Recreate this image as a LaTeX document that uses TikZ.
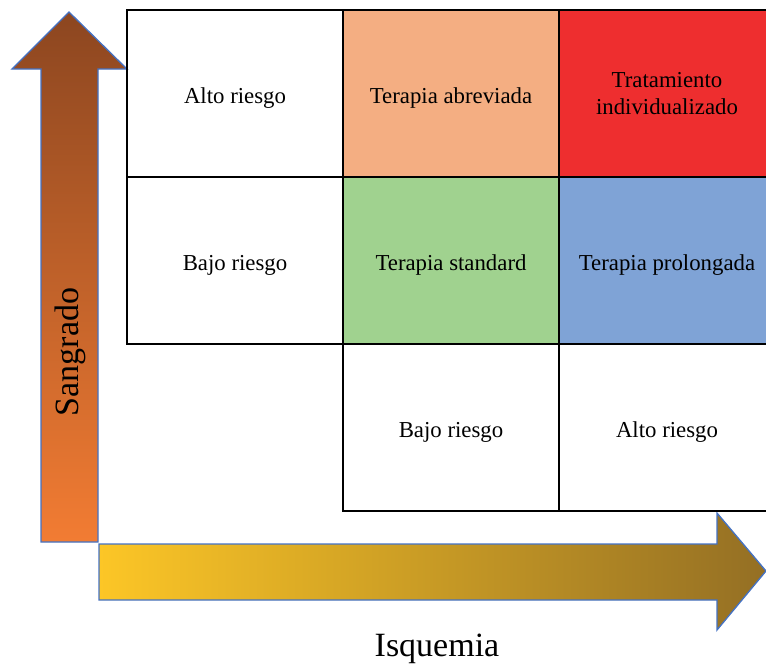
\documentclass[tikz,border=0pt]{standalone}
\usepackage{fontspec}
\setmainfont{Liberation Serif}
\usetikzlibrary{positioning}
\definecolor{borda}{HTML}{4472C4}
\definecolor{pessego}{HTML}{F4AE82}
\definecolor{vermelho}{HTML}{EE2E2F}
\definecolor{verde}{HTML}{A0D28F}
\definecolor{azul}{HTML}{7FA3D6}
\definecolor{marrom}{HTML}{8C4620}
\definecolor{laranja}{HTML}{F27C33}
\definecolor{amarelo}{HTML}{FCC626}
\definecolor{ouro}{HTML}{946F24}
\begin{document}
\begin{tikzpicture}[x=1pt, y=-1pt,
  font=\fontsize{22.8}{27}\selectfont,
  celula/.style={draw=black, line width=1.4pt, align=center, minimum width=216pt, minimum height=167pt, inner sep=0pt, outer sep=0pt, text height=24pt, text depth=5pt},
  seta/.style={draw=borda, line width=1.3pt, line join=miter},
  node distance=0pt]
\useasboundingbox (0,0) rectangle (766,665);
\clip (0,0) rectangle (766,665);
% eixos
\path[seta, top color=marrom, bottom color=laranja]
  (41,542) -- (41,69) -- (12,69) -- (69,12) -- (127,69) -- (98,69) -- (98,542) -- cycle;
\path[seta, left color=amarelo, right color=ouro]
  (99,544) -- (717,544) -- (717,513) -- (766,571) -- (717,630) -- (717,600) -- (99,600) -- cycle;
\node[rotate=90, font=\fontsize{34}{36}\selectfont] (sangrado) at (70,352) {Sangrado};
\node[font=\fontsize{34}{36}\selectfont] (isquemia) at (437,649) {Isquemia};
% grade
\node[celula, anchor=north west] (altoS) at (127,10) {Alto riesgo};
\node[celula, fill=pessego, right=of altoS] (abrev) {Terapia abreviada};
\node[celula, fill=vermelho, right=of abrev, text height={}, text depth={}, yshift=0pt] (indiv) {Tratamiento\\individualizado};
\node[celula, below=of altoS] (bajoS) {Bajo riesgo};
\node[celula, fill=verde, right=of bajoS] (standard) {Terapia standard};
\node[celula, fill=azul, right=of standard] (prolong) {Terapia prolongada};
\node[celula, below=of standard] (bajoI) {Bajo riesgo};
\node[celula, right=of bajoI] (altoI) {Alto riesgo};
\end{tikzpicture}
\end{document}
